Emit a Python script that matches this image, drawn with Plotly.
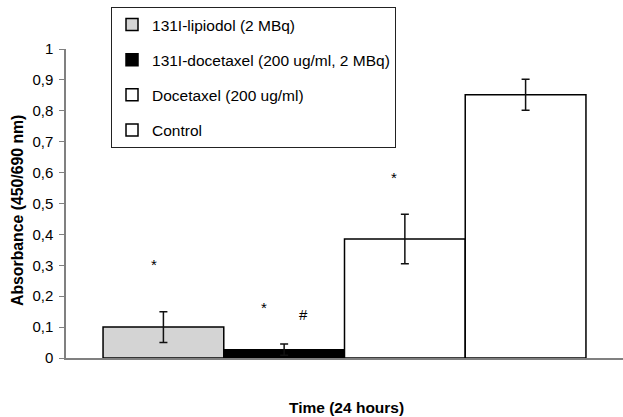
import plotly.graph_objects as go

categories = ["24 hours"]
series_names = ["131I-lipiodol (2 MBq)", "131I-docetaxel (200 ug/ml, 2 MBq)",
                "Docetaxel (200 ug/ml)", "Control"]
series_values = [0.10, 0.027, 0.385, 0.852]
series_errors = [0.05, 0.018, 0.08, 0.05]
series_colors = ["#d4d4d4", "#000000", "#ffffff", "#ffffff"]

fig = go.Figure()
for i, (name, val, err, col) in enumerate(zip(series_names, series_values, series_errors, series_colors)):
    fig.add_trace(go.Bar(
        x=categories, y=[val], name=name, legendgroup=f"g{i}",
        marker=dict(color=col, line=dict(color="#000000", width=1.5)),
        error_y=dict(type="data", array=[err], visible=True, color="#111111",
                     thickness=1.5, width=4),
    ))

font = "Liberation Sans, Arial, sans-serif"
annots = [
    dict(text="*", x=0.158, y=0.301),
    dict(text="*", x=0.355, y=0.162),
    dict(text="#", x=0.4255, y=0.141),
    dict(text="*", x=0.589, y=0.583),
]
ann = [dict(xref="paper", yref="y", showarrow=False, xanchor="center", yanchor="middle",
            font=dict(size=15, family=font, color="#000000"), **a) for a in annots]
ann.append(dict(xref="paper", yref="paper", x=0.5037, y=-0.159, showarrow=False,
                xanchor="center", yanchor="middle",
                text="<b>Time (24 hours)</b>", font=dict(size=15.5, family=font, color="#000000")))
ann.append(dict(xref="paper", yref="paper", x=-0.086, y=0.476, showarrow=False, textangle=-90,
                xanchor="center", yanchor="middle",
                text="<b>Absorbance (450/690 nm)</b>", font=dict(size=15.8, family=font, color="#000000")))

fig.update_layout(
    width=623, height=417,
    margin=dict(l=66, r=0, t=49, b=59),
    paper_bgcolor="white", plot_bgcolor="white",
    barmode="group", bargap=0.133, bargroupgap=0,
    separators=", ",
    font=dict(family=font, size=15, color="#000000"),
    showlegend=True,
    legend=dict(x=0.0808, y=1.136, xanchor="left", yanchor="top",
                bordercolor="#222222", borderwidth=1, bgcolor="white",
                tracegroupgap=12, itemwidth=30, font=dict(size=15.5, family=font)),
    xaxis=dict(showticklabels=False, showline=True, linecolor="#808080", linewidth=2,
               ticks="", range=[-0.5, 0.5]),
    yaxis=dict(range=[0, 1], dtick=0.1, showgrid=False, zeroline=False,
               showline=True, linecolor="#808080", linewidth=1.5,
               ticks="outside", ticklen=5, tickcolor="#808080", ticklabelstandoff=3,
               tickfont=dict(size=15, family=font)),
    annotations=ann,
)
fig.write_html("out.html", config={"displayModeBar": False},
               post_script="document.body.style.margin='0px';document.body.style.overflow='hidden';")
